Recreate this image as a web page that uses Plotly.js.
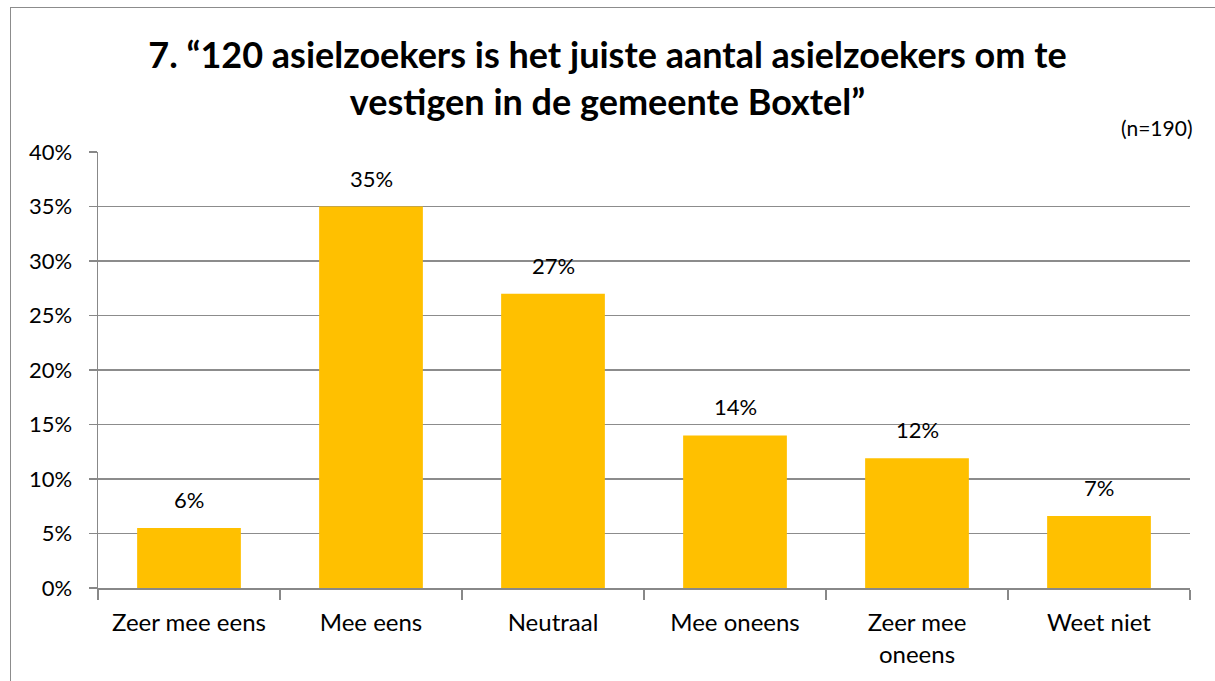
<!DOCTYPE html>
<html>
<head>
<meta charset="utf-8">
<script src="https://cdn.plot.ly/plotly-3.0.1.min.js"></script>
<style>
  html, body { margin: 0; padding: 0; background: #ffffff; }
  #wrap { position: relative; width: 1215px; height: 681px; overflow: hidden; }
  #frame { position: absolute; left: 10px; top: 7px; width: 1300px; height: 800px;
           border-top: 1.5px solid #8c8c8c; border-left: 1.5px solid #8c8c8c; }
  #chart { position: absolute; left: 0; top: 0; width: 1215px; height: 681px; }
</style>
</head>
<body>
<div id="wrap">
  <div id="frame"></div>
  <div id="chart"></div>
</div>
<script>
const categories = ["Zeer mee eens", "Mee eens", "Neutraal", "Mee oneens", "Zeer mee<br>oneens", "Weet niet"];
const percentages = [5.5, 35, 27, 14, 11.9, 6.6];
const valueLabels = ["6%", "35%", "27%", "14%", "12%", "7%"];
const yTickValues = [0, 5, 10, 15, 20, 25, 30, 35, 40];
const yTickLabels = ["0%", "5%", "10%", "15%", "20%", "25%", "30%", "35%", "40%"];
const chartTitle = "7. \u201c120 asielzoekers is het juiste aantal asielzoekers om te<br>vestigen in de gemeente Boxtel\u201d";
const sampleNote = "(n=190)";

const FONT = "Lato, Carlito, Calibri, sans-serif";

const trace = {
  type: "bar",
  x: categories,
  y: percentages,
  marker: { color: "#FFC000" },
  hoverinfo: "skip"
};

const annotations = categories.map((c, i) => ({
  x: c, y: percentages[i], xref: "x", yref: "y",
  text: valueLabels[i], showarrow: false,
  yanchor: "bottom", yshift: 13,
  font: { family: FONT, size: 22, color: "#000000" }
}));
annotations.push({
  xref: "paper", yref: "paper", x: 1.004, y: 1.0, xanchor: "right", yanchor: "bottom",
  yshift: 10, text: sampleNote, showarrow: false,
  font: { family: FONT, size: 21, color: "#000000" }
});

const layout = {
  width: 1215, height: 681,
  margin: { l: 98, r: 25, t: 152, b: 93, pad: 0 },
  paper_bgcolor: "rgba(0,0,0,0)",
  plot_bgcolor: "rgba(0,0,0,0)",
  font: { family: FONT, size: 22, color: "#000000" },
  title: {
    text: chartTitle,
    font: { family: FONT, size: 36, color: "#000000", weight: "bold" },
    x: 0.5, xref: "container", xanchor: "center",
    y: 0.90, yref: "container", yanchor: "top"
  },
  bargap: 0.43,
  showlegend: false,
  xaxis: {
    type: "category",
    tickson: "boundaries",
    ticks: "outside", ticklen: 10, tickcolor: "#888888", tickwidth: 1.5,
    showline: true, linecolor: "#888888", linewidth: 1.5,
    showgrid: false,
    tickfont: { family: FONT, size: 24, color: "#000000" },
    ticklabelstandoff: 13,
    fixedrange: true
  },
  yaxis: {
    range: [0, 40],
    tickvals: yTickValues, ticktext: yTickLabels,
    ticks: "outside", ticklen: 8, tickcolor: "#888888", tickwidth: 1.5,
    showline: true, linecolor: "#888888", linewidth: 1.5,
    showgrid: true, gridcolor: "#8c8c8c", gridwidth: 1.2,
    zeroline: false,
    tickfont: { family: FONT, size: 22, color: "#000000" },
    ticklabelstandoff: 12,
    fixedrange: true
  },
  annotations: annotations
};

Plotly.newPlot("chart", [trace], layout, { displayModeBar: false, staticPlot: true });
</script>
</body>
</html>
